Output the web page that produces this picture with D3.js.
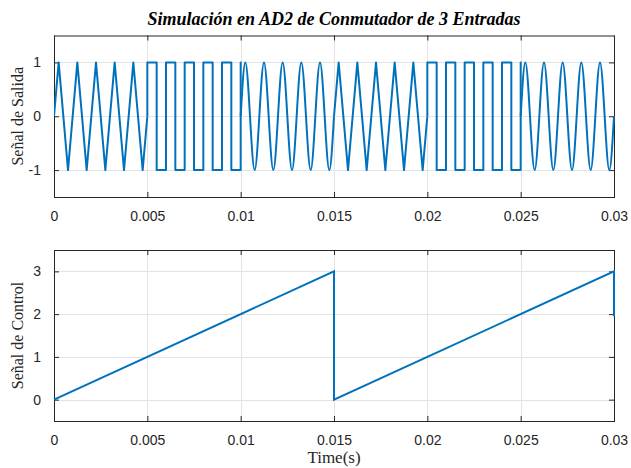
<!DOCTYPE html>
<html>
<head>
<meta charset="utf-8">
<script src="https://cdn.jsdelivr.net/npm/d3@7"></script>
<style>
  html, body { margin: 0; padding: 0; background: #ffffff; }
  svg { display: block; }
  .tick-label { font-family: "Liberation Sans", Arial, sans-serif; font-size: 14px; fill: #262626; }
  .axis-label { font-family: "Liberation Serif", "Times New Roman", serif; font-size: 16px; fill: #262626; }
  .x-label { font-size: 17px; }
  .title { font-family: "Liberation Serif", "Times New Roman", serif; font-size: 18px; font-weight: bold; font-style: italic; fill: #000; }
</style>
</head>
<body>
<svg id="chart" width="631" height="468"></svg>
<script>
// Output of the 3-input switch: triangle, square and sine pieces, [time (s), value]
const triangleA = [[0,0],[0.00025,1],[0.00075,-1],[0.00125,1],[0.00175,-1],[0.00225,1],[0.00275,-1],[0.00325,1],[0.00375,-1],[0.00425,1],[0.00475,-1],[0.005,0]];
const squareA = [[0.005,0],[0.005,1],[0.0055,1],[0.0055,-1],[0.006,-1],[0.006,1],[0.0065,1],[0.0065,-1],[0.007,-1],[0.007,1],[0.0075,1],[0.0075,-1],[0.008,-1],[0.008,1],[0.0085,1],[0.0085,-1],[0.009,-1],[0.009,1],[0.0095,1],[0.0095,-1],[0.01,-1],[0.01,1],[0.01,0]];
const sineA = [[0.01,0],[0.01025,1],[0.0105,0],[0.01075,-1],[0.011,0],[0.01125,1],[0.0115,0],[0.01175,-1],[0.012,0],[0.01225,1],[0.0125,0],[0.01275,-1],[0.013,0],[0.01325,1],[0.0135,0],[0.01375,-1],[0.014,0],[0.01425,1],[0.0145,0],[0.01475,-1],[0.015,0]];
const triangleB = [[0.015,0],[0.01525,1],[0.01575,-1],[0.01625,1],[0.01675,-1],[0.01725,1],[0.01775,-1],[0.01825,1],[0.01875,-1],[0.01925,1],[0.01975,-1],[0.02,0]];
const squareB = [[0.02,0],[0.02,1],[0.0205,1],[0.0205,-1],[0.021,-1],[0.021,1],[0.0215,1],[0.0215,-1],[0.022,-1],[0.022,1],[0.0225,1],[0.0225,-1],[0.023,-1],[0.023,1],[0.0235,1],[0.0235,-1],[0.024,-1],[0.024,1],[0.0245,1],[0.0245,-1],[0.025,-1],[0.025,1],[0.025,0]];
const sineB = [[0.025,0],[0.02525,1],[0.0255,0],[0.02575,-1],[0.026,0],[0.02625,1],[0.0265,0],[0.02675,-1],[0.027,0],[0.02725,1],[0.0275,0],[0.02775,-1],[0.028,0],[0.02825,1],[0.0285,0],[0.02875,-1],[0.029,0],[0.02925,1],[0.0295,0],[0.02975,-1],[0.03,0]];

// Control ramp that selects the input
const control = [[0,0],[0.015,3],[0.015,0],[0.03,3],[0.03,1.95]];

// Ticks and their labels
const xTicks = [0, 0.005, 0.01, 0.015, 0.02, 0.025, 0.03];
const xTickLabels = ["0", "0.005", "0.01", "0.015", "0.02", "0.025", "0.03"];
const outTicks = [-1, 0, 1];
const outTickLabels = ["-1", "0", "1"];
const ctrlTicks = [0, 1, 2, 3];
const ctrlTickLabels = ["0", "1", "2", "3"];

const titleText = "Simulación en AD2 de Conmutador de 3 Entradas";
const outLabel = "Señal de Salida";
const ctrlLabel = "Señal de Control";
const xLabel = "Time(s)";

const LINE = "#0072BD";
const AXIS = "#262626";
const GRID = "#e3e3e3";

const svg = d3.select("#chart");
const left = 54, right = 614;

const x = d3.scaleLinear().domain([0, 0.03]).range([left, right]);

function panel(top, bottom, yDomain, yTicks, yTickLabels, yLabel) {
  const y = d3.scaleLinear().domain(yDomain).range([bottom, top]);
  const g = svg.append("g");

  // grid
  g.append("g").selectAll("line").data(xTicks.slice(1, -1)).join("line")
    .attr("x1", d => Math.round(x(d)) + 0.5).attr("x2", d => Math.round(x(d)) + 0.5)
    .attr("y1", top).attr("y2", bottom)
    .attr("stroke", GRID).attr("stroke-width", 1);
  g.append("g").selectAll("line").data(yTicks).join("line")
    .attr("x1", left).attr("x2", right)
    .attr("y1", d => Math.round(y(d)) + 0.5).attr("y2", d => Math.round(y(d)) + 0.5)
    .attr("stroke", GRID).attr("stroke-width", 1);

  // axes through d3 axis generators, ticks pointing inward
  const xb = g.append("g").attr("transform", `translate(0,${bottom})`)
    .call(d3.axisBottom(x).tickValues(xTicks).tickSize(-5).tickPadding(14)
      .tickFormat((d, i) => xTickLabels[i]));
  const xt = g.append("g").attr("transform", `translate(0,${top})`)
    .call(d3.axisTop(x).tickValues(xTicks).tickSize(-5).tickFormat(""));
  const yl = g.append("g").attr("transform", `translate(${left},0)`)
    .call(d3.axisLeft(y).tickValues(yTicks).tickSize(-5).tickPadding(13)
      .tickFormat((d, i) => yTickLabels[i]));
  const yr = g.append("g").attr("transform", `translate(${right},0)`)
    .call(d3.axisRight(y).tickValues(yTicks).tickSize(-5).tickFormat(""));
  [xb, xt, yl, yr].forEach(a => {
    a.select(".domain").remove();
    a.selectAll(".tick line").attr("stroke", AXIS);
    a.selectAll(".tick text").attr("class", "tick-label").attr("font-size", null).attr("font-family", null);
  });

  // box
  g.append("rect").attr("x", left + 0.5).attr("y", top + 0.5)
    .attr("width", right - left).attr("height", bottom - top)
    .attr("fill", "none").attr("stroke", AXIS).attr("stroke-width", 1);

  // y label
  const cy = (top + bottom) / 2;
  g.append("text").attr("class", "axis-label")
    .attr("transform", `translate(23,${cy}) rotate(-90)`)
    .attr("text-anchor", "middle").text(yLabel);

  return { g, y };
}

// Top panel: switch output
const p1 = panel(35.5, 197, [-1.5, 1.5], outTicks, outTickLabels, outLabel);
svg.append("clipPath").attr("id", "clip1").append("rect")
  .attr("x", left).attr("y", 35.5).attr("width", right - left + 1).attr("height", 197 - 35.5);
const linear1 = d3.line().x(d => x(d[0])).y(d => p1.y(d[1]));
const smooth1 = d3.line().x(d => x(d[0])).y(d => p1.y(d[1])).curve(d3.curveNatural);
const sig = p1.g.append("g").attr("clip-path", "url(#clip1)")
  .attr("fill", "none").attr("stroke", LINE).attr("stroke-width", 2)
  .attr("stroke-linejoin", "round");
[triangleA, squareA, triangleB, squareB].forEach(s => sig.append("path").attr("d", linear1(s)));
[sineA, sineB].forEach(s => sig.append("path").attr("d", smooth1(s)));

// Bottom panel: control signal
const p2 = panel(250, 421, [-0.5, 3.5], ctrlTicks, ctrlTickLabels, ctrlLabel);
const linear2 = d3.line().x(d => x(d[0])).y(d => p2.y(d[1]));
p2.g.append("path").attr("d", linear2(control))
  .attr("fill", "none").attr("stroke", LINE).attr("stroke-width", 2);

// Title and x label
svg.append("text").attr("class", "title").attr("x", (left + right) / 2).attr("y", 25)
  .attr("text-anchor", "middle").text(titleText);
svg.append("text").attr("class", "axis-label x-label").attr("x", (left + right) / 2).attr("y", 463)
  .attr("text-anchor", "middle").text(xLabel);
</script>
</body>
</html>
